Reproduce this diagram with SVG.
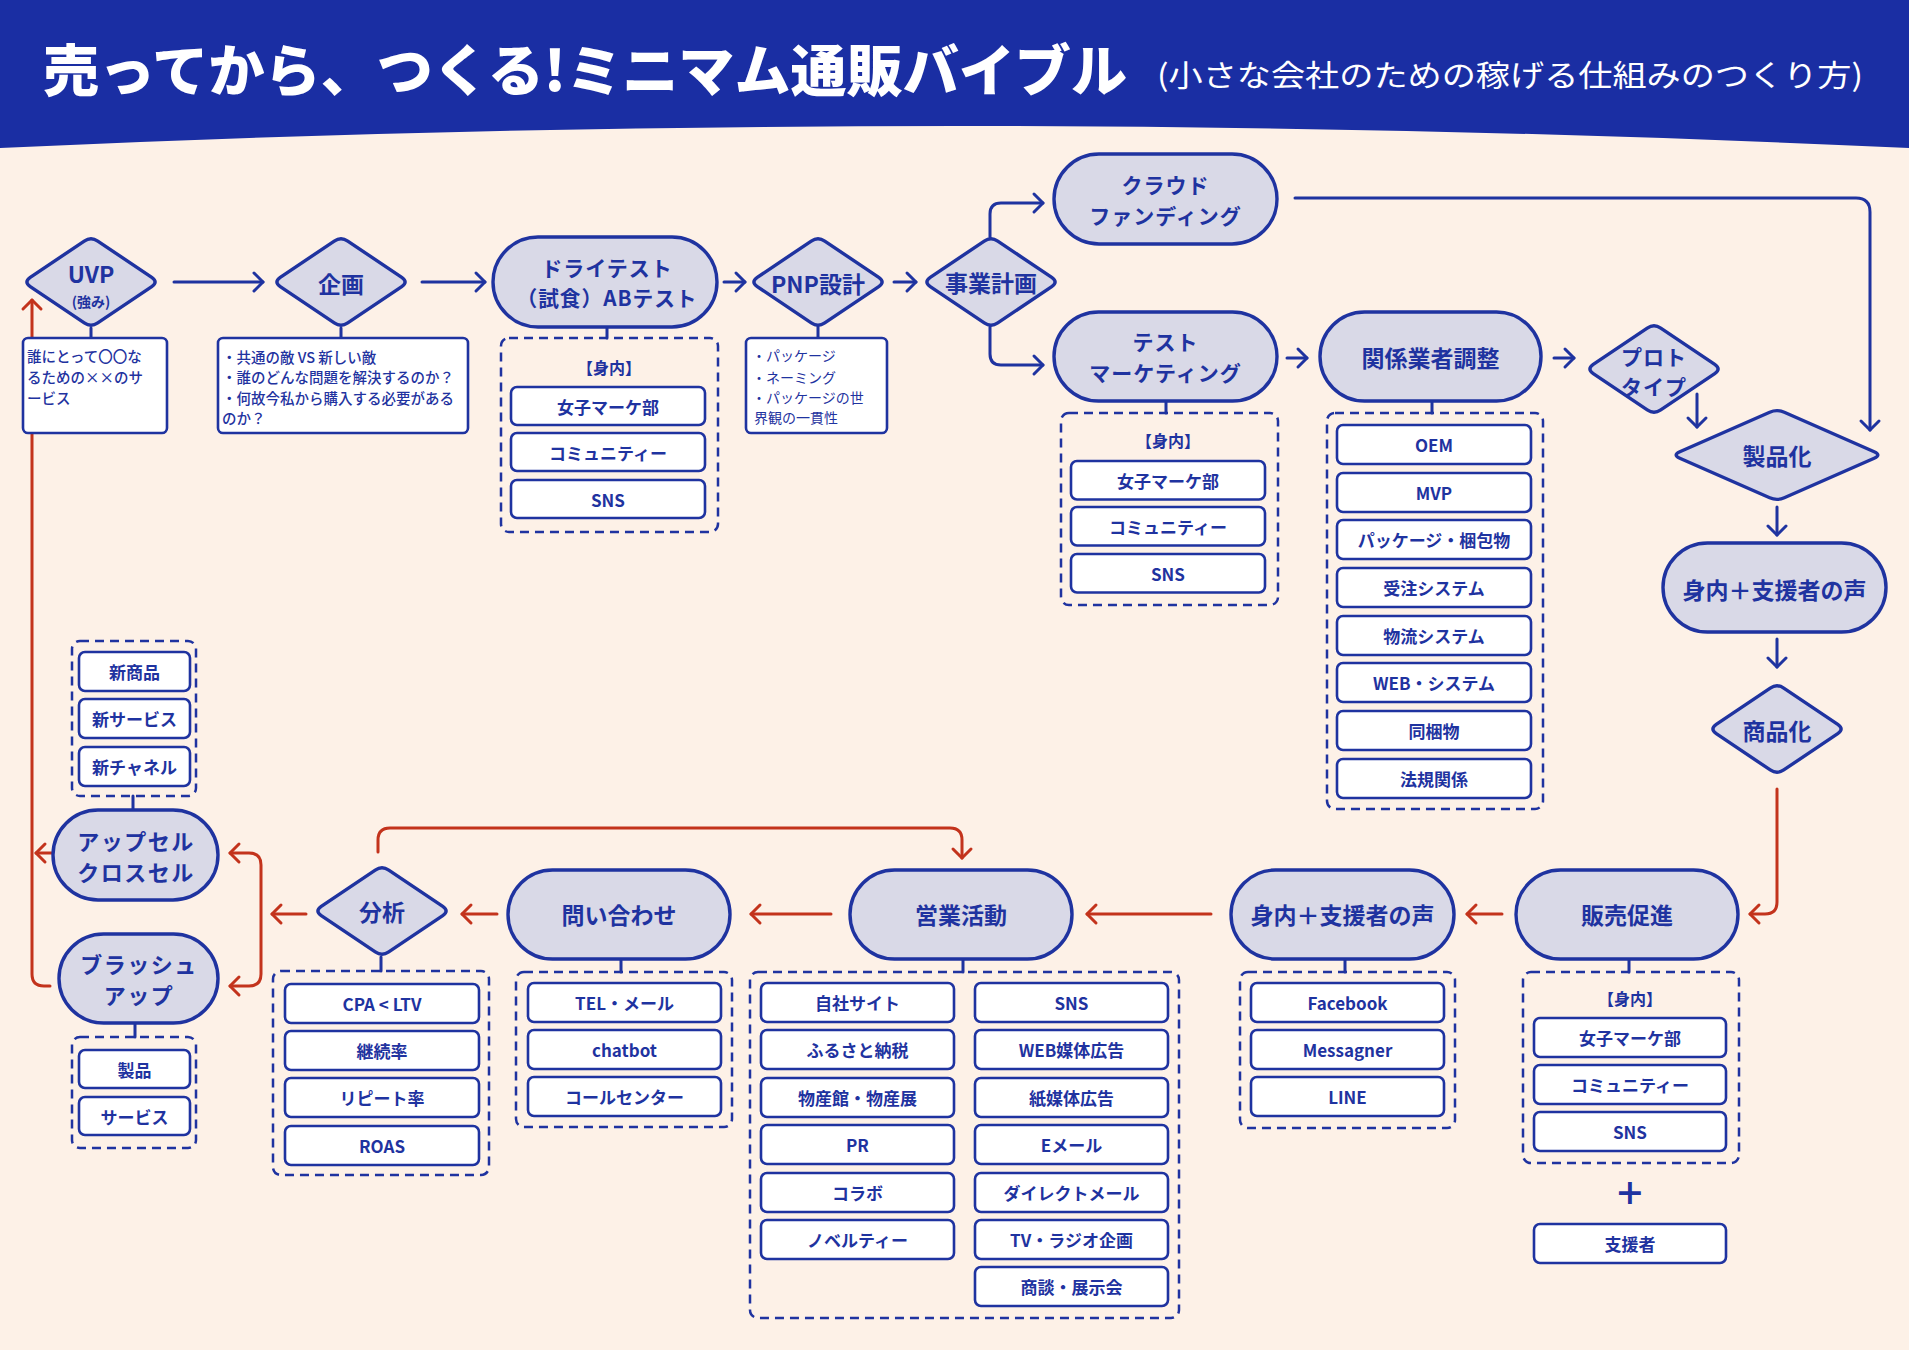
<svg xmlns="http://www.w3.org/2000/svg" width="1909" height="1350" viewBox="0 0 1909 1350">
<defs>
<style>
text{font-family:"Noto Sans CJK JP","Noto Sans",sans-serif;fill:#1f33a0}
.node{fill:#d9d9e7;stroke:#1f33a0;stroke-width:3.4;stroke-linejoin:round}
.item{fill:#fff;stroke:#1f33a0;stroke-width:2.6}
.box{fill:#fff;stroke:#1f33a0;stroke-width:2.6}
.dash{fill:none;stroke:#1f33a0;stroke-width:2.5;stroke-dasharray:9 6}
.conn{fill:none;stroke:#1f33a0;stroke-width:3;stroke-linecap:round;stroke-linejoin:round}
.red{fill:none;stroke:#c3331c;stroke-width:3;stroke-linecap:round;stroke-linejoin:round}
.t{font-size:23px;font-weight:700;text-anchor:middle;dominant-baseline:central}
.t2{font-size:21px;font-weight:700;text-anchor:middle;dominant-baseline:central;letter-spacing:1px}
.it{font-size:17px;font-weight:700;text-anchor:middle;dominant-baseline:central}
.bx{font-size:14.5px;font-weight:500;dominant-baseline:central}
</style>
<marker id="ab" viewBox="-12 -12 14 24" refX="0" refY="0" markerWidth="14" markerHeight="24" markerUnits="userSpaceOnUse" orient="auto" overflow="visible"><path d="M-9,-9 L0,0 L-9,9" fill="none" stroke="#1f33a0" stroke-width="3" stroke-linecap="round" stroke-linejoin="round"/></marker>
<marker id="ar" viewBox="-12 -12 14 24" refX="0" refY="0" markerWidth="14" markerHeight="24" markerUnits="userSpaceOnUse" orient="auto" overflow="visible"><path d="M-9,-9 L0,0 L-9,9" fill="none" stroke="#c3331c" stroke-width="3" stroke-linecap="round" stroke-linejoin="round"/></marker>
<marker id="ars" viewBox="-12 -12 14 24" refX="0" refY="0" markerWidth="14" markerHeight="24" markerUnits="userSpaceOnUse" orient="auto-start-reverse" overflow="visible"><path d="M-9,-9 L0,0 L-9,9" fill="none" stroke="#c3331c" stroke-width="3" stroke-linecap="round" stroke-linejoin="round"/></marker>
</defs>

<rect x="0" y="0" width="1909" height="1350" fill="#fdf1e7"/>
<g id="header">
<path d="M0,0 H1909 V148 Q954.5,104 0,148 Z" fill="#1a2ea3"/>
<text x="43" y="66" font-size="56" font-weight="900" style="fill:#fff;dominant-baseline:central" textLength="1084" lengthAdjust="spacingAndGlyphs">売ってから、つくる!ミニマム通販バイブル</text>
<text x="1157" y="73" font-size="30" font-weight="400" style="fill:#fff;dominant-baseline:central" textLength="706" lengthAdjust="spacingAndGlyphs">(小さな会社のための稼げる仕組みのつくり方)</text>
</g>

<g id="connectors">
<path class="conn" d="M91,328 V338 M341,328 V338 M818,327 V338 M607,327 V338 M1166,401 V413 M1432,401 V413 M381,957 V971 M621,959 V972 M963,959 V972 M1345,959 V972 M1629,959 V972 M133,796 V810 M135,1023 V1037"/>
<path class="conn" marker-end="url(#ab)" d="M174,282 H263"/>
<path class="conn" marker-end="url(#ab)" d="M422,282 H485"/>
<path class="conn" marker-end="url(#ab)" d="M724,282 H745"/>
<path class="conn" marker-end="url(#ab)" d="M894,282 H916"/>
<path class="conn" marker-end="url(#ab)" d="M990,237 V214 Q990,203 1001,203 H1043"/>
<path class="conn" marker-end="url(#ab)" d="M990,327 V354 Q990,365 1001,365 H1043"/>
<path class="conn" marker-end="url(#ab)" d="M1287,358 H1307"/>
<path class="conn" marker-end="url(#ab)" d="M1554,358 H1574"/>
<path class="conn" marker-end="url(#ab)" d="M1697,394 V427"/>
<path class="conn" marker-end="url(#ab)" d="M1295,198 H1856 Q1870,198 1870,212 V430"/>
<path class="conn" marker-end="url(#ab)" d="M1777,507 V535"/>
<path class="conn" marker-end="url(#ab)" d="M1777,639 V667"/>
<path class="red" marker-end="url(#ar)" d="M1777,789 V902 Q1777,914 1765,914 H1750"/>
<path class="red" marker-end="url(#ar)" d="M1502,914 H1467"/>
<path class="red" marker-end="url(#ar)" d="M1211,914 H1087"/>
<path class="red" marker-end="url(#ar)" d="M831,914 H751"/>
<path class="red" marker-end="url(#ar)" d="M497,914 H462"/>
<path class="red" marker-end="url(#ar)" d="M306,914 H272"/>
<path class="red" marker-start="url(#ars)" marker-end="url(#ar)" d="M230,853 H249 Q261,853 261,865 V974 Q261,986 249,986 H230"/>
<path class="red" marker-end="url(#ar)" d="M378,852 V840 Q378,828 390,828 H950 Q962,828 962,840 V858"/>
<path class="red" marker-end="url(#ar)" d="M50,986 H44 Q32,986 32,974 V300"/>
<path class="red" marker-end="url(#ar)" d="M53,853 H36"/>
</g>

<g id="uvp">
<path class="node" transform="translate(91,282)" d="M-60.75,-4.55 L-6.75,-40.95 Q0,-45.5 6.75,-40.95 L60.75,-4.55 Q67.5,0 60.75,4.55 L6.75,40.95 Q0,45.5 -6.75,40.95 L-60.75,4.55 Q-67.5,0 -60.75,-4.55Z"/>
<text class="t" x="91" y="272.5">UVP</text>
<text class="t" x="91" y="300.5" style="font-size:14px">(強み)</text>
</g>
<g id="uvp-note">
<rect class="box" x="23" y="338" width="144" height="95" rx="5"/>
<text class="bx" x="27" y="355">誰にとって〇〇な</text>
<text class="bx" x="27" y="376">るための××のサ</text>
<text class="bx" x="27" y="397">ービス</text>
</g>

<g id="kikaku">
<path class="node" transform="translate(341,282)" d="M-60.75,-4.55 L-6.75,-40.95 Q0,-45.5 6.75,-40.95 L60.75,-4.55 Q67.5,0 60.75,4.55 L6.75,40.95 Q0,45.5 -6.75,40.95 L-60.75,4.55 Q-67.5,0 -60.75,-4.55Z"/>
<text class="t" x="341" y="283">企画</text>
</g>
<g id="kikaku-note">
<rect class="box" x="218" y="338" width="250" height="95" rx="5"/>
<text class="bx" x="222" y="356">・共通の敵 VS 新しい敵</text>
<text class="bx" x="222" y="376.5">・誰のどんな問題を解決するのか？</text>
<text class="bx" x="222" y="397">・何故今私から購入する必要がある</text>
<text class="bx" x="222" y="417.5">のか？</text>
</g>

<g id="drytest">
<rect class="node" x="493" y="237" width="224" height="90" rx="45"/>
<text class="t2" x="607" y="266.5">ドライテスト</text>
<text class="t2" x="607" y="297" textLength="181" lengthAdjust="spacingAndGlyphs">（試食）ABテスト</text>
</g>
<g id="drytest-list">
<rect class="dash" x="501" y="338" width="217" height="194" rx="8"/>
<text class="it" x="609" y="367" style="font-size:16px">【身内】</text>
<rect class="item" x="511" y="387" width="194" height="38" rx="6"/><text class="it" x="608" y="406">女子マーケ部</text>
<rect class="item" x="511" y="433" width="194" height="38" rx="6"/><text class="it" x="608" y="452">コミュニティー</text>
<rect class="item" x="511" y="480" width="194" height="38" rx="6"/><text class="it" x="608" y="499">SNS</text>
</g>

<g id="pnp">
<path class="node" transform="translate(818,282)" d="M-60.75,-4.55 L-6.75,-40.95 Q0,-45.5 6.75,-40.95 L60.75,-4.55 Q67.5,0 60.75,4.55 L6.75,40.95 Q0,45.5 -6.75,40.95 L-60.75,4.55 Q-67.5,0 -60.75,-4.55Z"/>
<text class="t" x="818" y="283">PNP設計</text>
</g>
<g id="pnp-note">
<rect class="box" x="746" y="338" width="141" height="95" rx="5"/>
<text class="bx" x="752" y="355" style="font-size:14px;font-weight:400">・パッケージ</text>
<text class="bx" x="752" y="376.5" style="font-size:14px;font-weight:400">・ネーミング</text>
<text class="bx" x="752" y="396.5" style="font-size:14px;font-weight:400">・パッケージの世</text>
<text class="bx" x="754" y="416.5" style="font-size:14px;font-weight:400">界観の一貫性</text>
</g>

<g id="jigyo">
<path class="node" transform="translate(991,282)" d="M-60.75,-4.55 L-6.75,-40.95 Q0,-45.5 6.75,-40.95 L60.75,-4.55 Q67.5,0 60.75,4.55 L6.75,40.95 Q0,45.5 -6.75,40.95 L-60.75,4.55 Q-67.5,0 -60.75,-4.55Z"/>
<text class="t" x="991" y="282">事業計画</text>
</g>

<g id="crowd">
<rect class="node" x="1054" y="154" width="223" height="90" rx="45"/>
<text class="t2" x="1165.5" y="184">クラウド</text>
<text class="t2" x="1165.5" y="214.5">ファンディング</text>
</g>

<g id="testmk">
<rect class="node" x="1054" y="312" width="223" height="89" rx="44.5"/>
<text class="t2" x="1165.5" y="341">テスト</text>
<text class="t2" x="1165.5" y="371.5">マーケティング</text>
</g>
<g id="testmk-list">
<rect class="dash" x="1061" y="413" width="217" height="192" rx="8"/>
<text class="it" x="1168" y="440" style="font-size:16px">【身内】</text>
<rect class="item" x="1071" y="461" width="194" height="38.5" rx="6"/><text class="it" x="1168" y="480">女子マーケ部</text>
<rect class="item" x="1071" y="507" width="194" height="38.5" rx="6"/><text class="it" x="1168" y="526">コミュニティー</text>
<rect class="item" x="1071" y="554" width="194" height="38.5" rx="6"/><text class="it" x="1168" y="573">SNS</text>
</g>

<g id="kankei">
<rect class="node" x="1320" y="312" width="221" height="89" rx="44.5"/>
<text class="t" x="1430.5" y="357">関係業者調整</text>
</g>
<g id="kankei-list">
<rect class="dash" x="1327" y="413" width="216" height="396" rx="8"/>
<rect class="item" x="1337" y="425" width="194" height="39" rx="6"/><text class="it" x="1434" y="444.5">OEM</text>
<rect class="item" x="1337" y="473" width="194" height="39" rx="6"/><text class="it" x="1434" y="492.5">MVP</text>
<rect class="item" x="1337" y="520" width="194" height="39" rx="6"/><text class="it" x="1434" y="539.5">パッケージ・梱包物</text>
<rect class="item" x="1337" y="568" width="194" height="39" rx="6"/><text class="it" x="1434" y="587.5">受注システム</text>
<rect class="item" x="1337" y="616" width="194" height="39" rx="6"/><text class="it" x="1434" y="635.5">物流システム</text>
<rect class="item" x="1337" y="663" width="194" height="39" rx="6"/><text class="it" x="1434" y="682.5">WEB・システム</text>
<rect class="item" x="1337" y="711" width="194" height="39" rx="6"/><text class="it" x="1434" y="730.5">同梱物</text>
<rect class="item" x="1337" y="759" width="194" height="39" rx="6"/><text class="it" x="1434" y="778.5">法規関係</text>
</g>

<g id="proto">
<path class="node" transform="translate(1654,369)" d="M-60.75,-4.55 L-6.75,-40.95 Q0,-45.5 6.75,-40.95 L60.75,-4.55 Q67.5,0 60.75,4.55 L6.75,40.95 Q0,45.5 -6.75,40.95 L-60.75,4.55 Q-67.5,0 -60.75,-4.55Z"/>
<text class="t2" x="1654" y="355.5">プロト</text>
<text class="t2" x="1654" y="386">タイプ</text>
</g>

<g id="seihinka">
<path class="node" transform="translate(1777,455)" d="M-97.2,-3.2 L-7.3,-42.8 Q0,-46 7.3,-42.8 L97.2,-3.2 Q104.5,0 97.2,3.2 L7.3,42.8 Q0,46 -7.3,42.8 L-97.2,3.2 Q-104.5,0 -97.2,-3.2Z"/>
<text class="t" x="1777" y="455">製品化</text>
</g>

<g id="voice1">
<rect class="node" x="1663" y="543" width="223" height="89" rx="44.5"/>
<text class="t" x="1774.5" y="589">身内＋支援者の声</text>
</g>

<g id="shohinka">
<path class="node" transform="translate(1777,729)" d="M-60.75,-4.55 L-6.75,-40.95 Q0,-45.5 6.75,-40.95 L60.75,-4.55 Q67.5,0 60.75,4.55 L6.75,40.95 Q0,45.5 -6.75,40.95 L-60.75,4.55 Q-67.5,0 -60.75,-4.55Z"/>
<text class="t" x="1777" y="730">商品化</text>
</g>

<g id="hanbai">
<rect class="node" x="1516" y="870" width="222" height="89" rx="44.5"/>
<text class="t" x="1627" y="914">販売促進</text>
</g>
<g id="hanbai-list">
<rect class="dash" x="1523" y="972" width="216" height="191" rx="8"/>
<text class="it" x="1630" y="998" style="font-size:16px">【身内】</text>
<rect class="item" x="1534" y="1018" width="192" height="39" rx="6"/><text class="it" x="1630" y="1037.5">女子マーケ部</text>
<rect class="item" x="1534" y="1065" width="192" height="39" rx="6"/><text class="it" x="1630" y="1084.5">コミュニティー</text>
<rect class="item" x="1534" y="1112" width="192" height="39" rx="6"/><text class="it" x="1630" y="1131.5">SNS</text>
<text x="1630" y="1209" font-size="46" font-weight="500" text-anchor="middle" style="font-family:'Noto Sans',sans-serif">+</text>
<rect class="item" x="1534" y="1224" width="192" height="39" rx="6"/><text class="it" x="1630" y="1243.5">支援者</text>
</g>

<g id="voice2">
<rect class="node" x="1231" y="870" width="223" height="89" rx="44.5"/>
<text class="t" x="1342.5" y="914">身内＋支援者の声</text>
</g>
<g id="voice2-list">
<rect class="dash" x="1240" y="972" width="215" height="156" rx="8"/>
<rect class="item" x="1251" y="983" width="193" height="39" rx="6"/><text class="it" x="1347.5" y="1002.5">Facebook</text>
<rect class="item" x="1251" y="1030" width="193" height="39" rx="6"/><text class="it" x="1347.5" y="1049.5">Messagner</text>
<rect class="item" x="1251" y="1077" width="193" height="39" rx="6"/><text class="it" x="1347.5" y="1096.5">LINE</text>
</g>

<g id="eigyo">
<rect class="node" x="850" y="870" width="222" height="89" rx="44.5"/>
<text class="t" x="961" y="914">営業活動</text>
</g>
<g id="eigyo-list">
<rect class="dash" x="750" y="972" width="429" height="346" rx="8"/>
<rect class="item" x="761" y="983" width="193" height="39" rx="6"/><text class="it" x="857.5" y="1002.5">自社サイト</text>
<rect class="item" x="761" y="1030" width="193" height="39" rx="6"/><text class="it" x="857.5" y="1049.5">ふるさと納税</text>
<rect class="item" x="761" y="1078" width="193" height="39" rx="6"/><text class="it" x="857.5" y="1097.5">物産館・物産展</text>
<rect class="item" x="761" y="1125" width="193" height="39" rx="6"/><text class="it" x="857.5" y="1144.5">PR</text>
<rect class="item" x="761" y="1173" width="193" height="39" rx="6"/><text class="it" x="857.5" y="1192.5">コラボ</text>
<rect class="item" x="761" y="1220" width="193" height="39" rx="6"/><text class="it" x="857.5" y="1239.5">ノベルティー</text>
<rect class="item" x="975" y="983" width="193" height="39" rx="6"/><text class="it" x="1071.5" y="1002.5">SNS</text>
<rect class="item" x="975" y="1030" width="193" height="39" rx="6"/><text class="it" x="1071.5" y="1049.5">WEB媒体広告</text>
<rect class="item" x="975" y="1078" width="193" height="39" rx="6"/><text class="it" x="1071.5" y="1097.5">紙媒体広告</text>
<rect class="item" x="975" y="1125" width="193" height="39" rx="6"/><text class="it" x="1071.5" y="1144.5">Eメール</text>
<rect class="item" x="975" y="1173" width="193" height="39" rx="6"/><text class="it" x="1071.5" y="1192.5">ダイレクトメール</text>
<rect class="item" x="975" y="1220" width="193" height="39" rx="6"/><text class="it" x="1071.5" y="1239.5">TV・ラジオ企画</text>
<rect class="item" x="975" y="1267" width="193" height="39" rx="6"/><text class="it" x="1071.5" y="1286.5">商談・展示会</text>
</g>

<g id="toiawase">
<rect class="node" x="508" y="870" width="222" height="89" rx="44.5"/>
<text class="t" x="619" y="914">問い合わせ</text>
</g>
<g id="toiawase-list">
<rect class="dash" x="516" y="972" width="216" height="155" rx="8"/>
<rect class="item" x="528" y="983" width="193" height="39" rx="6"/><text class="it" x="624.5" y="1002.5">TEL・メール</text>
<rect class="item" x="528" y="1030" width="193" height="39" rx="6"/><text class="it" x="624.5" y="1049.5">chatbot</text>
<rect class="item" x="528" y="1077" width="193" height="39" rx="6"/><text class="it" x="624.5" y="1096.5">コールセンター</text>
</g>

<g id="bunseki">
<path class="node" transform="translate(382,911)" d="M-60.75,-4.55 L-6.75,-40.95 Q0,-45.5 6.75,-40.95 L60.75,-4.55 Q67.5,0 60.75,4.55 L6.75,40.95 Q0,45.5 -6.75,40.95 L-60.75,4.55 Q-67.5,0 -60.75,-4.55Z"/>
<text class="t" x="382" y="911">分析</text>
</g>
<g id="bunseki-list">
<rect class="dash" x="273" y="971" width="216" height="204" rx="8"/>
<rect class="item" x="285" y="984" width="194" height="39" rx="6"/><text class="it" x="382" y="1003.5">CPA &lt; LTV</text>
<rect class="item" x="285" y="1031" width="194" height="39" rx="6"/><text class="it" x="382" y="1050.5">継続率</text>
<rect class="item" x="285" y="1078" width="194" height="39" rx="6"/><text class="it" x="382" y="1097.5">リピート率</text>
<rect class="item" x="285" y="1126" width="194" height="39" rx="6"/><text class="it" x="382" y="1145.5">ROAS</text>
</g>

<g id="upsell">
<rect class="node" x="53" y="810" width="165" height="90" rx="45"/>
<text class="t2" x="136" y="839.5" style="font-size:22px;letter-spacing:1.5px">アップセル</text>
<text class="t2" x="136" y="871" style="font-size:22px;letter-spacing:1.5px">クロスセル</text>
</g>
<g id="upsell-list">
<rect class="dash" x="72" y="641" width="124" height="155" rx="8"/>
<rect class="item" x="79" y="652" width="111" height="39" rx="6"/><text class="it" x="134.5" y="671.5">新商品</text>
<rect class="item" x="79" y="699" width="111" height="39" rx="6"/><text class="it" x="134.5" y="718.5">新サービス</text>
<rect class="item" x="79" y="747" width="111" height="39" rx="6"/><text class="it" x="134.5" y="766.5">新チャネル</text>
</g>

<g id="brushup">
<rect class="node" x="59" y="934" width="159" height="89" rx="44.5"/>
<text class="t2" x="139" y="962.5" style="font-size:22px;letter-spacing:1.5px">ブラッシュ</text>
<text class="t2" x="139" y="994" style="font-size:22px;letter-spacing:1.5px">アップ</text>
</g>
<g id="brushup-list">
<rect class="dash" x="72" y="1037" width="124" height="111" rx="8"/>
<rect class="item" x="79" y="1050" width="111" height="38" rx="6"/><text class="it" x="134.5" y="1069">製品</text>
<rect class="item" x="79" y="1097" width="111" height="38" rx="6"/><text class="it" x="134.5" y="1116">サービス</text>
</g>
</svg>
